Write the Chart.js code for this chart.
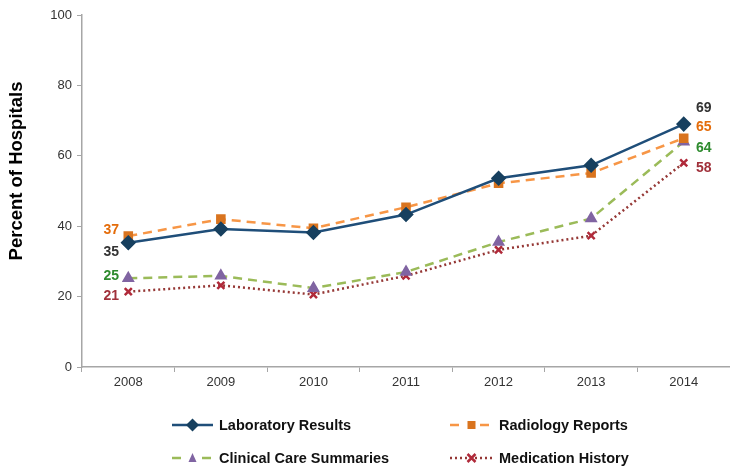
<!DOCTYPE html>
<html>
<head>
<meta charset="utf-8">
<script src="https://cdn.jsdelivr.net/npm/chart.js@4"></script>
<style>
  html, body { margin: 0; padding: 0; background: #fff; }
  #wrap { width: 730px; height: 467px; position: relative; }
</style>
</head>
<body>
<div id="wrap"><canvas id="lineChart"></canvas></div>
<script>
const years = ["2008", "2009", "2010", "2011", "2012", "2013", "2014"];
const labResults = [35.3, 39.2, 38.2, 43.3, 53.6, 57.3, 69];
const radiology = [37.2, 42, 39.4, 45.4, 52.2, 55.1, 65];
const clinicalCare = [25.2, 25.9, 22.4, 27, 35.5, 42.2, 64];
const medication = [21.4, 23.2, 20.6, 25.9, 33.3, 37.3, 58];
const yTicks = [0, 20, 40, 60, 80, 100];
const yTitle = "Percent of Hospitals";

// end labels: [text, color, dx, dy] for first and last points
const endLabels = [
  { first: ["35", "#333333", -17, 9], last: ["69", "#333333", 20, -16] },
  { first: ["37", "#E46C0A", -17, -6], last: ["65", "#E46C0A", 20, -11] },
  { first: ["25", "#2E8B2E", -17, -2], last: ["64", "#2E8B2E", 20, 6] },
  { first: ["21", "#A0303A", -17, 4], last: ["58", "#A0303A", 20, 5] },
];

const legendItems = [
  { col: 0, row: 0 }, { col: 1, row: 0 }, { col: 0, row: 1 }, { col: 1, row: 1 },
];

const FONT = "'Liberation Sans', Arial, sans-serif";

function diamond(ctx, x, y, r, color) {
  ctx.beginPath();
  ctx.moveTo(x, y - r); ctx.lineTo(x + r, y); ctx.lineTo(x, y + r); ctx.lineTo(x - r, y);
  ctx.closePath(); ctx.fillStyle = color; ctx.fill();
}

const labelPlugin = {
  id: "endLabels",
  afterDatasetsDraw(chart) {
    const ctx = chart.ctx;
    ctx.save();
    ctx.font = "bold 14px " + FONT;
    ctx.textAlign = "center";
    ctx.textBaseline = "middle";
    chart.data.datasets.forEach((ds, i) => {
      const pts = chart.getDatasetMeta(i).data;
      const f = endLabels[i].first, l = endLabels[i].last;
      const p0 = pts[0], pn = pts[pts.length - 1];
      ctx.fillStyle = f[1]; ctx.fillText(f[0], p0.x + f[2], p0.y + f[3]);
      ctx.fillStyle = l[1]; ctx.fillText(l[0], pn.x + l[2], pn.y + l[3]);
    });
    ctx.restore();
  },
  afterDraw(chart) {
    const ctx = chart.ctx;
    ctx.save();
    // y axis title
    ctx.translate(17, 171);
    ctx.rotate(-Math.PI / 2);
    ctx.font = "bold 18.5px " + FONT;
    ctx.textAlign = "center";
    ctx.textBaseline = "middle";
    ctx.fillStyle = "#000";
    ctx.fillText(yTitle, 0, 0);
    ctx.restore();

    // two-column legend under the plot
    ctx.save();
    ctx.font = "bold 14.5px " + FONT;
    ctx.textBaseline = "middle";
    const colX = [172, 450];
    const sampleW = [41, 43];
    const rowY = [425, 458];
    chart.data.datasets.forEach((ds, i) => {
      const c = legendItems[i].col;
      const x = colX[c], y = rowY[legendItems[i].row], w = sampleW[c];
      ctx.strokeStyle = ds.borderColor;
      ctx.lineWidth = ds.borderWidth;
      ctx.setLineDash(ds.borderDash || []);
      ctx.beginPath(); ctx.moveTo(x, y); ctx.lineTo(x + w, y); ctx.stroke();
      ctx.setLineDash([]);
      const cx = x + w / 2;
      ctx.fillStyle = ds.pointBackgroundColor;
      ctx.strokeStyle = ds.pointBorderColor;
      if (ds.pointStyle === "rectRot") diamond(ctx, cx, y, 6.5, ds.pointBackgroundColor);
      else if (ds.pointStyle === "rect") {
        ctx.clearRect(cx - 7, y - 3, 14, 6);
        ctx.fillRect(cx - 4, y - 4, 8, 8);
      } else if (ds.pointStyle === "triangle") {
        ctx.clearRect(cx - 7, y - 3, 14, 6);
        ctx.beginPath(); ctx.moveTo(cx, y - 5); ctx.lineTo(cx + 4, y + 4); ctx.lineTo(cx - 4, y + 4);
        ctx.closePath(); ctx.fill();
      } else {
        ctx.lineWidth = 2.5;
        ctx.beginPath(); ctx.moveTo(cx - 4, y - 4); ctx.lineTo(cx + 4, y + 4);
        ctx.moveTo(cx + 4, y - 4); ctx.lineTo(cx - 4, y + 4); ctx.stroke();
      }
      ctx.fillStyle = "#111";
      ctx.fillText(ds.label, x + w + 6, y + 1);
    });
    ctx.restore();
  },
};

const ctx = document.getElementById("lineChart").getContext("2d");
new Chart(ctx, {
  type: "line",
  data: {
    labels: years,
    datasets: [
      {
        label: "Laboratory Results", data: labResults,
        borderColor: "#1F4E79", borderWidth: 2.5,
        pointStyle: "rectRot", pointRadius: 6, pointBackgroundColor: "#17405F", pointBorderColor: "#17405F",
      },
      {
        label: "Radiology Reports", data: radiology,
        borderColor: "#F79646", borderWidth: 2.5, borderDash: [9, 6],
        pointStyle: "rect", pointRadius: 5, pointBackgroundColor: "#D9741F", pointBorderColor: "#D9741F",
      },
      {
        label: "Clinical Care Summaries", data: clinicalCare,
        borderColor: "#9BBB59", borderWidth: 2.5, borderDash: [9, 6],
        pointStyle: "triangle", pointRadius: 5, pointBackgroundColor: "#8064A2", pointBorderColor: "#8064A2",
      },
      {
        label: "Medication History", data: medication,
        borderColor: "#953735", borderWidth: 2.5, borderDash: [2, 3],
        pointStyle: "crossRot", pointRadius: 5, pointBorderWidth: 2.5,
        pointBackgroundColor: "#B02A3A", pointBorderColor: "#B02A3A",
      },
    ],
  },
  options: {
    responsive: true,
    maintainAspectRatio: false,
    animation: false,
    layout: { autoPadding: false, padding: { top: 15, right: -3, left: 0, bottom: 0 } },
    plugins: { legend: { display: false }, tooltip: { enabled: false } },
    scales: {
      x: {
        offset: true,
        grid: { display: true, drawOnChartArea: false, offset: true, color: "#A6A6A6", tickLength: 5 },
        border: { color: "#A6A6A6", width: 1.5 },
        ticks: { color: "#333", font: { size: 13, family: FONT }, padding: 3 },
        afterFit(scale) { scale.height = 100; },
      },
      y: {
        min: 0, max: 100,
        afterBuildTicks(scale) { scale.ticks = yTicks.map((v) => ({ value: v })); },
        grid: { display: true, drawOnChartArea: false, color: "#A6A6A6", tickLength: 5 },
        border: { color: "#A6A6A6", width: 1.5 },
        ticks: { color: "#333", font: { size: 13, family: FONT }, padding: 5 },
        afterFit(scale) { scale.width = 82; },
      },
    },
  },
  plugins: [labelPlugin],
});
</script>
</body>
</html>
